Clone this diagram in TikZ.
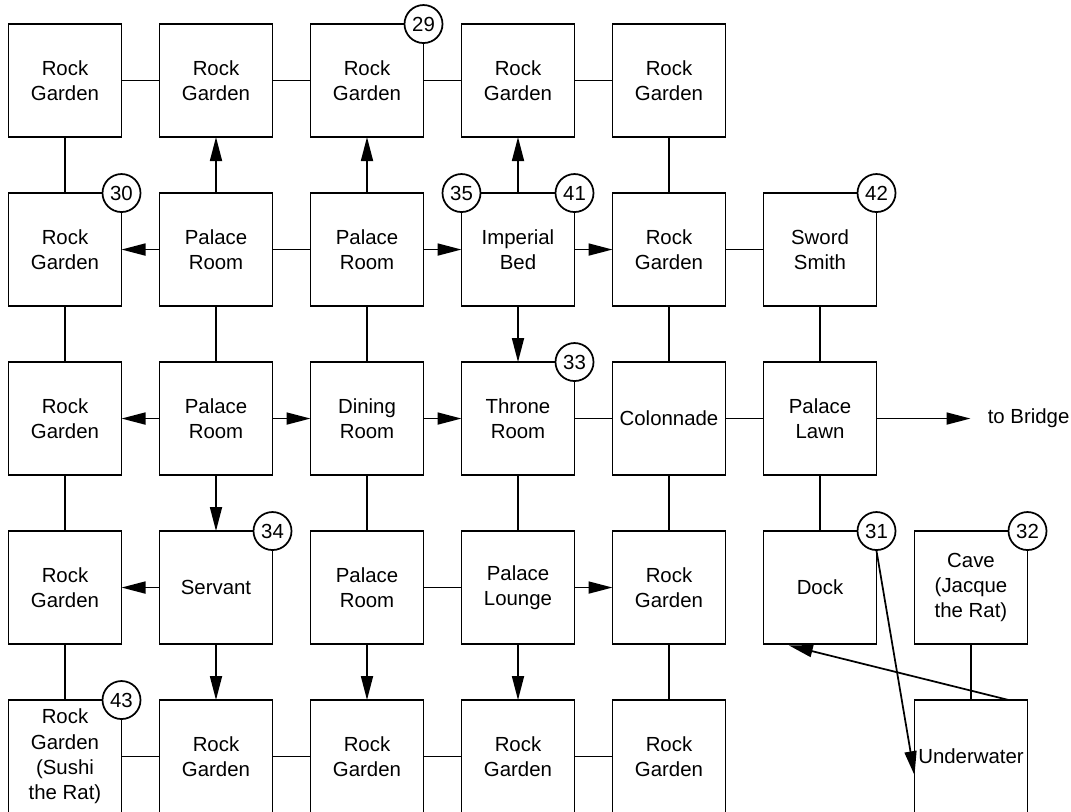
\documentclass[tikz,border=0pt]{standalone}
\usepackage{fontspec}
\setmainfont{Liberation Sans}
\usetikzlibrary{arrows.meta, positioning}

\begin{document}
\begin{tikzpicture}[
    node distance=42pt and 28.5pt,
    room/.style={draw, line width=1.3pt, minimum width=84.75pt, minimum height=84.75pt, inner sep=1pt, outer sep=0pt, align=center, font=\fontsize{15.3}{19}\selectfont},
    tag/.style={draw, circle, fill=white, line width=1.3pt, minimum size=28.5pt, inner sep=0pt, font=\fontsize{15.3}{19}\selectfont},
    link/.style={line width=1.3pt},
    arrow/.style={-{Triangle[length=18pt,width=9pt]}, line width=1.3pt}
]
\useasboundingbox (0,0) rectangle (803.25pt,-608.25pt);
\node[room] (r11) at (48.75pt,-60.4pt) {Rock\\Garden};
\node[room, right=of r11] (r12) {Rock\\Garden};
\node[room, right=of r12] (r13) {Rock\\Garden};
\node[room, right=of r13] (r14) {Rock\\Garden};
\node[room, right=of r14] (r15) {Rock\\Garden};
\node[room, below=of r11] (r21) {Rock\\Garden};
\node[room, right=of r21] (r22) {Palace\\Room};
\node[room, right=of r22] (r23) {Palace\\Room};
\node[room, right=of r23] (r24) {Imperial\\Bed};
\node[room, right=of r24] (r25) {Rock\\Garden};
\node[room, right=of r25] (r26) {Sword\\Smith};
\node[room, below=of r21] (r31) {Rock\\Garden};
\node[room, right=of r31] (r32) {Palace\\Room};
\node[room, right=of r32] (r33) {Dining\\Room};
\node[room, right=of r33] (r34) {Throne\\Room};
\node[room, right=of r34] (r35) {Colonnade};
\node[room, right=of r35] (r36) {Palace\\Lawn};
\node[font=\fontsize{15.3}{19}\selectfont, inner xsep=12.75pt, right=70.5pt of r36] (bridge) {to Bridge};
\node[room, below=of r31] (r41) {Rock\\Garden};
\node[room, right=of r41] (r42) {Servant};
\node[room, right=of r42] (r43) {Palace\\Room};
\node[room, right=of r43] (r44) {Palace\\Lounge};
\node[room, right=of r44] (r45) {Rock\\Garden};
\node[room, right=of r45] (r46) {Dock};
\node[room, right=of r46] (r47) {Cave\\(Jacque\\the Rat)};
\node[room, below=of r41] (r51) {Rock\\Garden\\(Sushi\\the Rat)};
\node[room, right=of r51] (r52) {Rock\\Garden};
\node[room, right=of r52] (r53) {Rock\\Garden};
\node[room, right=of r53] (r54) {Rock\\Garden};
\node[room, right=of r54] (r55) {Rock\\Garden};
\node[room, below=of r47] (r57) {Underwater};
\node[tag] (n29) at (r13.north east) {29};
\node[tag] (n30) at (r21.north east) {30};
\node[tag] (n35) at (r24.north west) {35};
\node[tag] (n41) at (r24.north east) {41};
\node[tag] (n42) at (r26.north east) {42};
\node[tag] (n33) at (r34.north east) {33};
\node[tag] (n34) at (r42.north east) {34};
\node[tag] (n31) at (r46.north east) {31};
\node[tag] (n32) at (r47.north east) {32};
\node[tag] (n43) at (r51.north east) {43};
\draw[link] (r11) -- (r12);
\draw[link] (r12) -- (r13);
\draw[link] (r13) -- (r14);
\draw[link] (r14) -- (r15);
\draw[link] (r11) -- (r21);
\draw[arrow] (r22) -- (r12);
\draw[arrow] (r23) -- (r13);
\draw[arrow] (r24) -- (r14);
\draw[link] (r15) -- (r25);
\draw[arrow] (r22) -- (r21);
\draw[link] (r22) -- (r23);
\draw[arrow] (r23) -- (r24);
\draw[arrow] (r24) -- (r25);
\draw[link] (r25) -- (r26);
\draw[link] (r21) -- (r31);
\draw[link] (r22) -- (r32);
\draw[link] (r23) -- (r33);
\draw[arrow] (r24) -- (r34);
\draw[link] (r25) -- (r35);
\draw[link] (r26) -- (r36);
\draw[arrow] (r32) -- (r31);
\draw[arrow] (r32) -- (r33);
\draw[arrow] (r33) -- (r34);
\draw[link] (r34) -- (r35);
\draw[link] (r35) -- (r36);
\draw[arrow] (r36) -- (bridge);
\draw[link] (r31) -- (r41);
\draw[arrow] (r32) -- (r42);
\draw[link] (r33) -- (r43);
\draw[link] (r34) -- (r44);
\draw[link] (r35) -- (r45);
\draw[link] (r36) -- (r46);
\draw[arrow] (r42) -- (r41);
\draw[link] (r43) -- (r44);
\draw[arrow] (r44) -- (r45);
\draw[link] (r41) -- (r51);
\draw[arrow] (r42) -- (r52);
\draw[arrow] (r43) -- (r53);
\draw[arrow] (r44) -- (r54);
\draw[link] (r45) -- (r55);
\draw[link] (r47) -- (r57);
\draw[link] (r51) -- (r52);
\draw[link] (r52) -- (r53);
\draw[link] (r53) -- (r54);
\draw[link] (r54) -- (r55);
\draw[arrow] (n31.south) -- ([yshift=-14pt]r57.west);
\draw[arrow] ([xshift=-14pt]r57.north east) -- ([xshift=19pt,yshift=-1pt]r46.south west);
\end{tikzpicture}
\end{document}
